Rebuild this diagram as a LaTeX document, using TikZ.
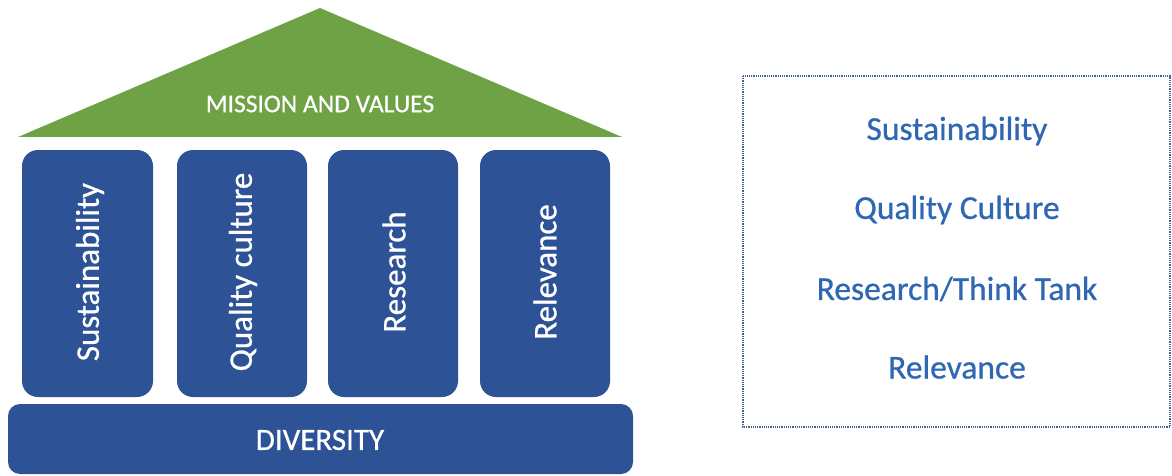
\documentclass[tikz,border=0pt]{standalone}
\usepackage{fontspec}
\setmainfont{Carlito}
\newfontfamily\heavyfont{Carlito}[FakeBold=0.7]
\definecolor{pillarblue}{HTML}{2D5396}
\definecolor{roofgreen}{HTML}{6FA245}
\definecolor{textblue}{HTML}{2F67B2}
\begin{document}
\begin{tikzpicture}[x=1pt,y=-1pt,
  pillar/.style={fill=pillarblue, rounded corners=16pt},
  pillartext/.style={text=white, font=\heavyfont\fontsize{33}{36}\selectfont, rotate=90},
  listtext/.style={text=textblue, font=\heavyfont\fontsize{33.5}{36}\selectfont}]
\useasboundingbox (0,0) rectangle (1172,476);
% roof
\fill[roofgreen] (18,137) -- (320,8) -- (622,137) -- cycle;
\node[text=white, font=\heavyfont\fontsize{25.5}{28}\selectfont] (mission) at (320,104) {MISSION AND VALUES};
% pillars
\fill[pillar] (22,150) rectangle (153,397);
\fill[pillar] (177,150) rectangle (307,397);
\fill[pillar] (328,150) rectangle (458,397);
\fill[pillar] (480,150) rectangle (610,397);
\node[pillartext] (p1) at (90,272) {Sustainability};
\node[pillartext] (p2) at (243,272) {Quality culture};
\node[pillartext] (p3) at (394,272) {Research};
\node[pillartext] (p4) at (545,272) {Relevance};
% base
\fill[pillar, rounded corners=12pt] (8,404) rectangle (633,474);
\node[text=white, font=\heavyfont\fontsize{31}{34}\selectfont] (diversity) at (320,440) {DIVERSITY};
% right box
\draw[pillarblue!70!gray, densely dotted, line width=1.2pt] (743,76) rectangle (1170,427);
\node[listtext] (l1) at (957,131) {Sustainability};
\node[listtext] (l2) at (957,210) {Quality Culture};
\node[listtext] (l3) at (957,289) {Research/Think Tank};
\node[listtext] (l4) at (957,367) {Relevance};
\end{tikzpicture}
\end{document}
